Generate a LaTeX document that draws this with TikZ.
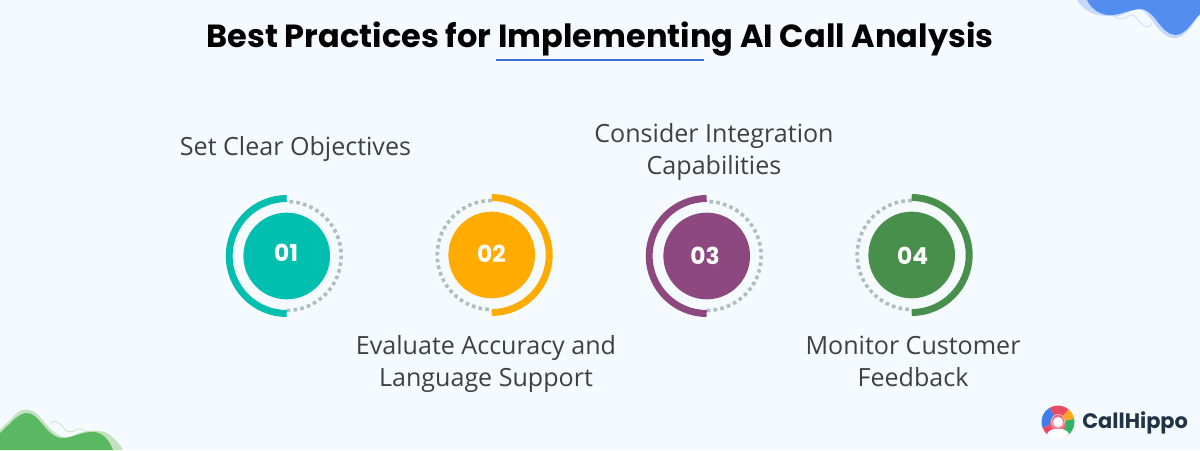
\documentclass[tikz,border=0pt]{standalone}
\usepackage{fontspec}
\setmainfont{Open Sans}
\newfontfamily\popfont{Poppins}
\usetikzlibrary{positioning}
\definecolor{pagebg}{RGB}{245,250,255}
\definecolor{dotgray}{RGB}{175,190,190}
\definecolor{tealc}{RGB}{0,191,174}
\definecolor{amberc}{RGB}{255,171,0}
\definecolor{plumc}{RGB}{142,72,128}
\definecolor{leafc}{RGB}{72,143,75}
\definecolor{textgray}{RGB}{64,64,64}
\definecolor{ruleblue}{RGB}{61,111,219}
\definecolor{blobblue}{RGB}{84,141,240}
\definecolor{blobbluel}{RGB}{197,218,250}
\definecolor{blobgreen}{RGB}{90,184,98}
\definecolor{blobgreenl}{RGB}{197,226,192}
\definecolor{logoblue}{RGB}{66,125,235}
\definecolor{logored}{RGB}{236,72,96}
\definecolor{logoorange}{RGB}{255,165,30}
\definecolor{logogreen}{RGB}{48,178,100}
\definecolor{brandc}{RGB}{32,52,70}
\tikzset{
    x=.75pt,y=.75pt,
    %Step captions and numbers
    caption/.style={font=\fontsize{18.8}{24}\selectfont,text=textgray,align=center},
    stepnum/.style={font=\popfont\bfseries\fontsize{17.5}{20}\selectfont,text=white,inner sep=0pt},
    dotring/.style={draw=dotgray,line width=2.7pt,dash pattern=on 2.7pt off 2.45pt},
    solidring/.style={line width=5.2pt}
}
% colour, centre, start angle of the solid half, name
\def\rDial#1#2#3#4{
    \begin{scope}[shift={#2}]
        \draw[dotring] (#3+180:54.5) arc (#3+180:#3+360:54.5);
        \draw[solidring,draw=#1] (#3:57.5) arc (#3:#3+180:57.5);
        \node[circle,fill=#1,minimum size=65pt,inner sep=0pt] (#4) at (0,0) {};
    \end{scope}
}
\begin{document}
\begin{tikzpicture}
    \useasboundingbox[fill=pagebg] (0,0) rectangle (1200,450);
    % blue corner
    \fill[blobbluel] (1077,450) .. controls (1086,436) and (1098,434) .. (1110,434) .. controls (1122,432) and (1130,440) .. (1137,441) .. controls (1150,442) and (1155,415) .. (1173,412) .. controls (1185,411) and (1192,425) .. (1200,436) -- (1200,450) -- cycle;
    \fill[blobblue] (1087,450) .. controls (1092,440) and (1100,436) .. (1108,435) .. controls (1118,434) and (1128,440) .. (1140,441) .. controls (1155,441) and (1160,416) .. (1175,415) .. controls (1186,415) and (1192,428) .. (1200,436) -- (1200,450) -- cycle;
    \draw[blobbluel,line width=.5pt] (1113,434) .. controls (1118,431) and (1125,430) .. (1130,435) .. controls (1135,438) and (1140,424) .. (1147,423) .. controls (1150,423) and (1152,426) .. (1152,427);
    % green corner
    \fill[blobgreenl] (17,37) .. controls (22,42) and (33,42) .. (40,33) .. controls (48,24) and (55,12) .. (70,12) .. controls (85,22) and (100,20) .. (107,17) .. controls (114,12) and (120,6) .. (123,0) -- (0,0) -- (0,20) -- cycle;
    \fill[blobgreen] (0,17) .. controls (10,26) and (18,37) .. (27,37) .. controls (40,37) and (46,12) .. (63,12) .. controls (72,12) and (82,19) .. (95,18) .. controls (105,16) and (110,8) .. (113,0) -- (0,0) -- cycle;
    \draw[blobgreenl,line width=.5pt] (50,27) .. controls (55,30) and (58,29) .. (63,23) .. controls (66,18) and (70,16) .. (78,21) .. controls (82,21) and (85,20) .. (87,18);
    % title
    \node[font=\popfont\bfseries\fontsize{24}{28}\selectfont,text=black] (title) at (600,411) {Best Practices for Implementing AI Call Analysis};
    \coordinate (rulel) at (496,389.7);
    \coordinate (ruler) at (704,389.7);
    \draw[ruleblue,line width=1.3pt] (rulel) -- (ruler);
    % steps
    \rDial{tealc}{(286.7,194)}{90}{dial1}
    \rDial{amberc}{(491.7,195)}{-90}{dial2}
    \rDial{plumc}{(706.7,194)}{90}{dial3}
    \rDial{leafc}{(911.7,195)}{-90}{dial4}
    \node[stepnum] (num1) at (286.2,197) {01};
    \node[stepnum] (num2) at (491.5,196) {02};
    \node[stepnum] (num3) at (705,194) {03};
    \node[stepnum] (num4) at (912.7,194) {04};
    \node[caption] (cap1) at (295.5,301.5) {Set Clear Objectives};
    \node[caption] (cap2) at (486,86.5) {Evaluate Accuracy and\\Language Support};
    \node[caption] (cap3) at (714,298.5) {Consider Integration\\Capabilities};
    \node[caption] (cap4) at (913,89) {Monitor Customer\\Feedback};
    % logo
    \begin{scope}[shift={(1058,28)}]
        \fill[logoblue] (0,0) -- (-160:16.5) arc (-160:-240:16.5) -- cycle;
        \fill[logored] (0,0) -- (120:16.5) arc (120:50:16.5) -- cycle;
        \fill[logoorange] (0,0) -- (50:16.5) arc (50:10:16.5) -- cycle;
        \fill[logogreen] (0,0) -- (10:16.5) arc (10:-55:16.5) -- cycle;
        \fill[logored] (0,0) -- (-125:16.5) arc (-125:-160:16.5) -- cycle;
        \fill[logored!80!white] (0,-2) circle (8);
        \draw[white!60!logored,line width=.7pt] (0,1) circle (6.5);
        \fill[white] (0,0) circle (5);
        \fill[white] (-11,-12) .. controls (-9,-5) and (9,-5) .. (11,-12) .. controls (5,-18) and (-5,-18) .. (-11,-12) -- cycle;
    \end{scope}
    \node[font=\popfont\bfseries\fontsize{15.7}{18}\selectfont,text=brandc,inner sep=0pt,anchor=west] (brand) at (1082,27) {CallHippo};
\end{tikzpicture}
\end{document}
